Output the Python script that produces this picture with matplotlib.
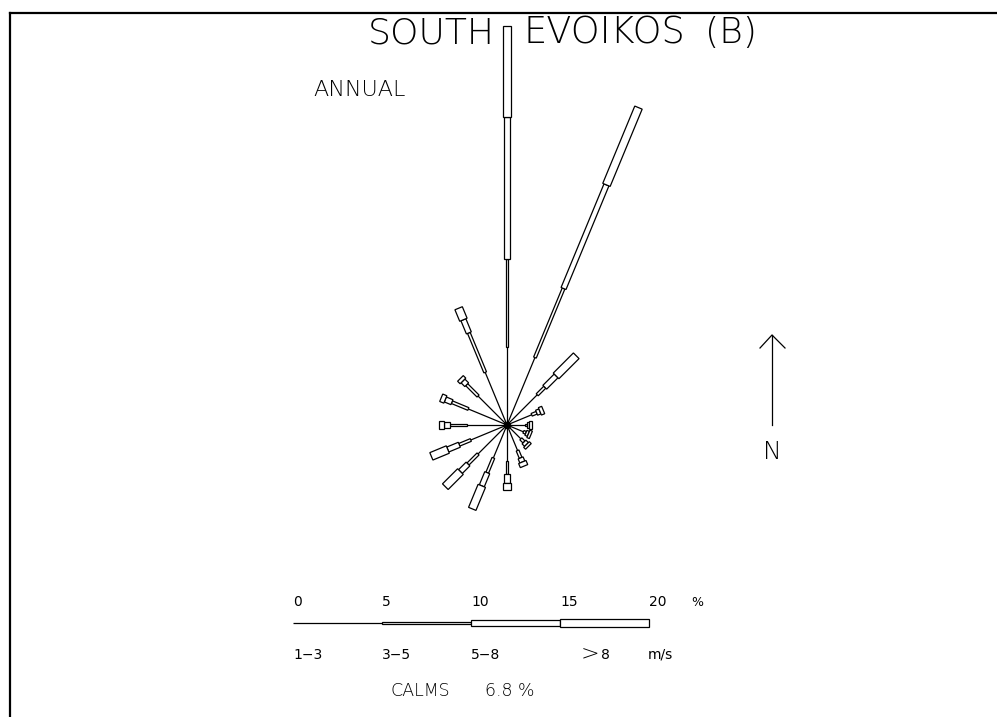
import numpy as np
import matplotlib
matplotlib.use("Agg")
import matplotlib.pyplot as plt
from matplotlib.patches import Polygon
from matplotlib.lines import Line2D

# ---- wind data: frequency (%) per direction and speed class ----
directions = ["N", "NNE", "NE", "ENE", "E", "ESE", "SE", "SSE",
              "S", "SSW", "SW", "WSW", "W", "WNW", "NW", "NNW"]
bearings = [0.0, 22.5, 45.0, 67.5, 90.0, 112.5, 135.0, 157.5,
            180.0, 202.5, 225.0, 247.5, 270.0, 292.5, 315.0, 337.5]
speed_classes = ["1\u22123", "3\u22125", "5\u22128", "8"]
pct_1_3 = [4.4, 4.1, 2.4, 1.5, 1.0, 1.0, 1.1, 1.55, 2.0, 2.0, 2.3, 2.2, 2.25, 2.35, 2.3, 3.2]
pct_3_5 = [4.9, 4.2, 0.6, 0.3, 0.15, 0.15, 0.25, 0.45, 0.75, 0.9, 0.8, 0.7, 0.95, 1.0, 0.9, 2.4]
pct_5_8 = [8.0, 6.3, 0.9, 0.2, 0.1, 0.15, 0.2, 0.25, 0.5, 0.8, 0.6, 0.7, 0.35, 0.4, 0.3, 0.8]
pct_gt8 = [5.1, 4.7, 1.6, 0.2, 0.15, 0.15, 0.15, 0.25, 0.4, 1.4, 1.2, 1.0, 0.25, 0.25, 0.2, 0.7]
calms = 6.8
scale_ticks = [0, 5, 10, 15, 20]
scale_step = [5, 5, 5, 5]

# ---- layout ----
W, H = 997, 717
PX_PER_PCT = 17.8          # drawing scale: pixels per percent
CX, CY = 507, 425          # rose centre in pixels
SX, SY = 293, 623          # scale bar origin in pixels
HALF_W = [0.0, 0.08, 0.15, 0.225]   # half widths of the class segments (% units)
LW = 0.9
FONT = "DejaVu Sans"

fig = plt.figure(figsize=(W / 100, H / 100), dpi=100)
ax = fig.add_axes([0, 0, 1, 1])
ax.set_xlim(-CX / PX_PER_PCT, (W - CX) / PX_PER_PCT)
ax.set_ylim(-(H - CY) / PX_PER_PCT, CY / PX_PER_PCT)
ax.set_axis_off()


def draw_arm(ox, oy, bearing, values):
    """Stacked arm: a plain line for the first class, outlined boxes of
    increasing width for the higher classes."""
    t = np.deg2rad(bearing)
    u = np.array([np.sin(t), np.cos(t)])
    n = np.array([np.cos(t), -np.sin(t)])
    o = np.array([ox, oy])
    r0 = 0.0
    for k, v in enumerate(values):
        r1 = r0 + v
        if v > 0:
            if HALF_W[k] == 0:
                p0, p1 = o + u * r0, o + u * r1
                ax.plot([p0[0], p1[0]], [p0[1], p1[1]], color="black", lw=LW,
                        solid_capstyle="butt")
            else:
                hw = HALF_W[k]
                pts = [o + u * r0 + n * hw, o + u * r1 + n * hw,
                       o + u * r1 - n * hw, o + u * r0 - n * hw]
                ax.add_patch(Polygon(pts, closed=True, facecolor="white",
                                     edgecolor="black", lw=LW, zorder=3 + k))
        r0 = r1


for b, a, c, d, e in zip(bearings, pct_1_3, pct_3_5, pct_5_8, pct_gt8):
    draw_arm(0.0, 0.0, b, [a, c, d, e])
ax.plot([0], [0], "o", color="black", ms=4.5, zorder=10)

# scale bar
sx0 = (SX - CX) / PX_PER_PCT
sy0 = (CY - SY) / PX_PER_PCT
draw_arm(sx0, sy0, 90.0, scale_step)


def fpos(x, y):
    return x / W, 1 - y / H


def label(x, y, s, size, ha="center", va="center", weight=200, **kw):
    ax.text(*fpos(x, y), s, transform=ax.transAxes, fontsize=size, ha=ha, va=va,
            family=[FONT], fontweight=weight, color="black", **kw)


# titles
label(368, 33, "SOUTH", 26, ha="left")
label(604, 33, "EVOIKOS", 26.5)
label(757, 33, "(B)", 26, ha="right")
label(313, 90, "ANNUAL", 16, ha="left")

# north arrow
tr = ax.transAxes
ax.add_line(Line2D(*zip(fpos(772, 335), fpos(772, 425)), transform=tr, color="black", lw=LW))
ax.add_line(Line2D(*zip(fpos(760, 348), fpos(772, 335), fpos(785, 348)), transform=tr,
                   color="black", lw=LW))
label(772, 452, "N", 18)

# scale labels
for t in scale_ticks:
    label(SX + t * PX_PER_PCT, 601.5, str(t), 10, ha="left", weight="normal")
label(697, 602, "%", 9, weight="normal")
for i, s in enumerate(speed_classes[:3]):
    label(SX + i * 5 * PX_PER_PCT, 655, s, 10, ha="left", weight="normal")
label(581, 654, ">", 16, ha="left")
label(601, 655, speed_classes[3], 10, ha="left", weight="normal")
label(648, 655, "m/s", 10, ha="left", weight="normal")
label(390, 691, "CALMS", 12.5, ha="left")
label(485, 691, f"{calms} %", 12.5, ha="left")

# frame (top and left edges of the sheet border)
ax.add_line(Line2D([10 / W, 1.2], [1 - 12.5 / H, 1 - 12.5 / H], transform=tr,
                   color="black", lw=1.6, clip_on=False))
ax.add_line(Line2D([10 / W, 10 / W], [-0.2, 1 - 12.5 / H], transform=tr,
                   color="black", lw=1.6, clip_on=False))

fig.savefig("out.png", dpi=100, facecolor="white")
